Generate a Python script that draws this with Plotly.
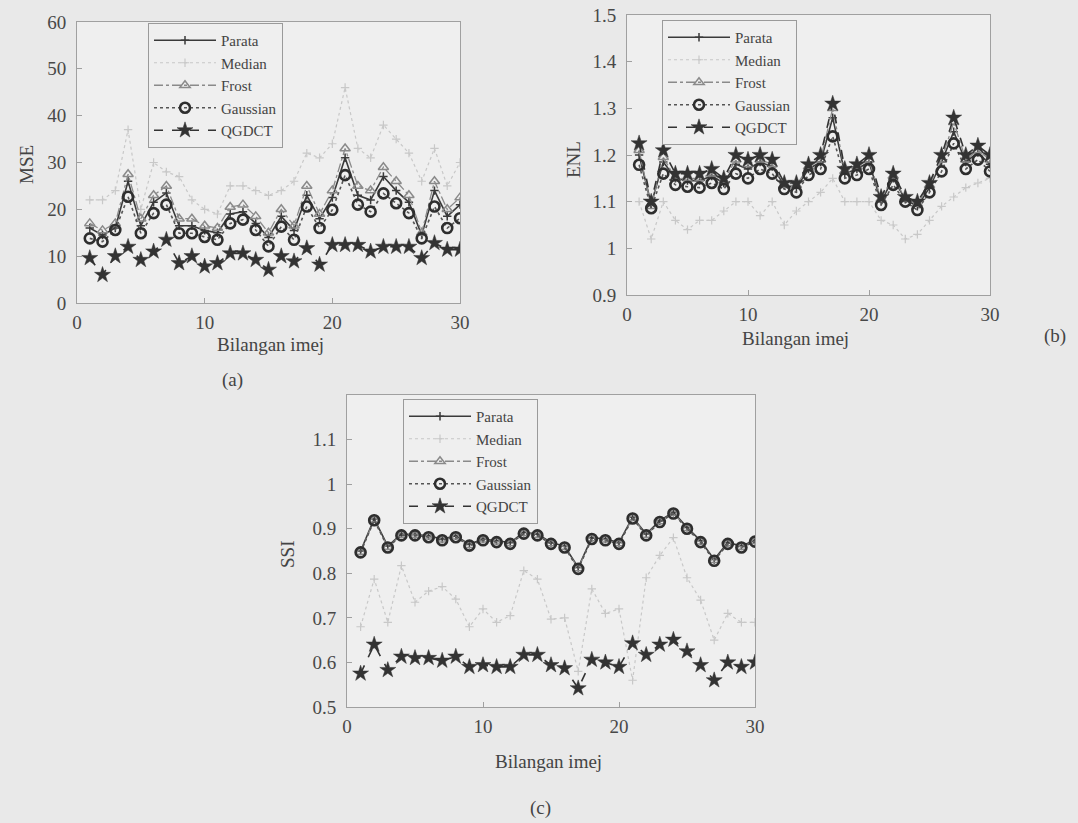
import plotly.graph_objects as go

W, H = 1078, 823

x_img = list(range(1, 31))
series_names = ["Parata", "Median", "Frost", "Gaussian", "QGDCT"]

# (a) MSE
mse_parata = [16, 14.5, 16, 26, 16.5, 21.5, 23.5, 16.5, 16.5, 15.5, 15, 19, 19.5, 17, 14, 18.5, 15.5, 23, 18, 22.5, 31, 23, 22, 27, 24, 21.5, 14.5, 24, 18.5, 21]
mse_median = [22, 22, 24, 37, 20, 30, 28, 27, 22, 20, 19, 25, 25, 24, 23, 24, 26, 32, 31, 34, 46, 33, 31, 38, 35, 32, 26, 33, 25, 30]
mse_frost = [17, 15.5, 17, 27.5, 18, 23, 25, 18, 18, 16.5, 16, 20.5, 21, 18.5, 15, 20, 16.5, 25, 19, 24, 33, 25, 24, 29, 26, 23, 15, 26, 20, 22.5]
mse_gauss = [13.8, 13.1, 15.6, 22.7, 14.9, 19.2, 21, 14.9, 14.9, 14.1, 13.5, 17, 17.8, 15.6, 12.1, 16.3, 13.5, 20.6, 16, 19.9, 27.3, 21, 19.5, 23.4, 21.3, 19.2, 13.8, 20.6, 16, 18.1]
mse_qgdct = [9.6, 6, 10, 12, 9.2, 11, 13.5, 8.5, 10, 7.8, 8.5, 10.6, 10.6, 9.2, 7.1, 10, 8.9, 11.7, 8.2, 12.4, 12.4, 12.4, 11, 12, 12, 12, 9.6, 12.8, 11.4, 11.4]

# (b) ENL
enl_parata = [1.2, 1.095, 1.185, 1.15, 1.145, 1.145, 1.155, 1.14, 1.18, 1.17, 1.185, 1.175, 1.135, 1.13, 1.17, 1.185, 1.28, 1.16, 1.17, 1.185, 1.1, 1.15, 1.105, 1.09, 1.13, 1.185, 1.25, 1.185, 1.205, 1.18]
enl_median = [1.1, 1.02, 1.1, 1.06, 1.04, 1.06, 1.06, 1.08, 1.1, 1.1, 1.07, 1.1, 1.05, 1.08, 1.1, 1.12, 1.15, 1.1, 1.1, 1.1, 1.06, 1.05, 1.02, 1.03, 1.06, 1.09, 1.11, 1.13, 1.14, 1.15]
enl_frost = [1.21, 1.09, 1.195, 1.15, 1.15, 1.15, 1.16, 1.145, 1.19, 1.18, 1.19, 1.18, 1.135, 1.135, 1.175, 1.19, 1.3, 1.165, 1.175, 1.19, 1.105, 1.155, 1.105, 1.095, 1.135, 1.19, 1.27, 1.19, 1.21, 1.19]
enl_gauss = [1.179, 1.086, 1.16, 1.136, 1.132, 1.13, 1.14, 1.127, 1.16, 1.15, 1.17, 1.16, 1.127, 1.12, 1.157, 1.17, 1.24, 1.15, 1.157, 1.17, 1.093, 1.136, 1.1, 1.082, 1.12, 1.165, 1.225, 1.17, 1.19, 1.165]
enl_qgdct = [1.225, 1.1, 1.21, 1.16, 1.16, 1.16, 1.17, 1.15, 1.2, 1.19, 1.2, 1.19, 1.14, 1.14, 1.18, 1.2, 1.31, 1.17, 1.18, 1.2, 1.11, 1.16, 1.11, 1.1, 1.14, 1.2, 1.28, 1.2, 1.22, 1.2]

# (c) SSI
ssi_parata = [0.85, 0.922, 0.861, 0.888, 0.887, 0.884, 0.877, 0.884, 0.865, 0.877, 0.873, 0.869, 0.892, 0.888, 0.869, 0.861, 0.813, 0.88, 0.877, 0.869, 0.926, 0.888, 0.918, 0.937, 0.903, 0.873, 0.831, 0.869, 0.861, 0.874]
ssi_median = [0.68, 0.787, 0.69, 0.817, 0.735, 0.76, 0.77, 0.742, 0.68, 0.72, 0.69, 0.705, 0.806, 0.787, 0.697, 0.7, 0.58, 0.765, 0.71, 0.72, 0.56, 0.79, 0.84, 0.88, 0.79, 0.74, 0.65, 0.71, 0.69, 0.69]
ssi_frost = [0.848, 0.92, 0.859, 0.886, 0.886, 0.882, 0.875, 0.882, 0.863, 0.875, 0.871, 0.867, 0.89, 0.886, 0.867, 0.859, 0.811, 0.878, 0.875, 0.867, 0.924, 0.886, 0.916, 0.935, 0.901, 0.871, 0.829, 0.867, 0.859, 0.872]
ssi_gauss = [0.847, 0.919, 0.858, 0.885, 0.885, 0.881, 0.874, 0.881, 0.862, 0.874, 0.87, 0.866, 0.889, 0.885, 0.866, 0.858, 0.81, 0.877, 0.874, 0.866, 0.923, 0.885, 0.915, 0.934, 0.9, 0.87, 0.828, 0.866, 0.858, 0.871]
ssi_qgdct = [0.575, 0.64, 0.583, 0.613, 0.61, 0.61, 0.604, 0.613, 0.59, 0.594, 0.59, 0.59, 0.617, 0.617, 0.594, 0.587, 0.542, 0.606, 0.6, 0.59, 0.643, 0.617, 0.64, 0.651, 0.625, 0.594, 0.56, 0.6, 0.59, 0.6]

panels = [
    dict(data=[mse_parata, mse_median, mse_frost, mse_gauss, mse_qgdct], xa="x", ya="y", legend="legend"),
    dict(data=[enl_parata, enl_median, enl_frost, enl_gauss, enl_qgdct], xa="x2", ya="y2", legend="legend2"),
    dict(data=[ssi_parata, ssi_median, ssi_frost, ssi_gauss, ssi_qgdct], xa="x3", ya="y3", legend="legend3"),
]

styles = [
    dict(line=dict(color="#3a3a3a", width=1.6, dash="solid"),
         marker=dict(symbol="cross-thin", size=6, color="#3a3a3a", line=dict(color="#3a3a3a", width=1.5))),
    dict(line=dict(color="#c8c8c8", width=1.2, dash="dot"),
         marker=dict(symbol="cross-thin", size=6, color="#c8c8c8", line=dict(color="#c8c8c8", width=1.2))),
    dict(line=dict(color="#8a8a8a", width=1.3, dash="dashdot"),
         marker=dict(symbol="triangle-up-open", size=9, color="#8a8a8a", line=dict(color="#8a8a8a", width=1.5))),
    dict(line=dict(color="#555555", width=1.6, dash="dot"),
         marker=dict(symbol="circle-open", size=10, color="#2e2e2e", line=dict(color="#2e2e2e", width=2.6))),
    dict(line=dict(color="#333333", width=1.6, dash="dash"),
         marker=dict(symbol="star", size=12, color="#333333", line=dict(color="#333333", width=0.5))),
]

fig = go.Figure()
for p in panels:
    for name, vals, st in zip(series_names, p["data"], styles):
        fig.add_trace(go.Scatter(
            x=x_img, y=vals, name=name, mode="lines+markers",
            line=st["line"], marker=st["marker"],
            xaxis=p["xa"], yaxis=p["ya"], legend=p["legend"],
        ))

FONT = "Liberation Serif, Times New Roman, serif"

def xd(a, b):
    return [a / W, b / W]

def yd(top, bottom):
    return [1 - bottom / H, 1 - top / H]

axis_common = dict(showline=True, mirror=True, linecolor="#a0a0a0", linewidth=1,
                   ticks="inside", ticklen=5, tickcolor="#a0a0a0", showgrid=False,
                   zeroline=False, automargin=False,
                   tickfont=dict(family=FONT, size=19, color="#484848"))
xcommon = dict(ticklabelstandoff=2, **axis_common)
ycommon = dict(ticklabelstandoff=6, **axis_common)

layout = dict(
    width=W, height=H,
    margin=dict(l=0, r=0, t=0, b=0, pad=0, autoexpand=False),
    paper_bgcolor="#e9e9e9",
    plot_bgcolor="#efefef",
    font=dict(family=FONT, color="#444444"),
    xaxis=dict(domain=xd(77, 460), range=[0, 30], tickvals=[0, 10, 20, 30], anchor="y", **xcommon),
    yaxis=dict(domain=yd(22, 303), range=[0, 60], tickvals=[0, 10, 20, 30, 40, 50, 60], anchor="x", **ycommon),
    xaxis2=dict(domain=xd(627, 990), range=[0, 30], tickvals=[0, 10, 20, 30], anchor="y2", **xcommon),
    yaxis2=dict(domain=yd(15, 295), range=[0.9, 1.5], tickvals=[0.9, 1.0, 1.1, 1.2, 1.3, 1.4, 1.5],
                ticktext=["0.9", "1", "1.1", "1.2", "1.3", "1.4", "1.5"], anchor="x2", **ycommon),
    xaxis3=dict(domain=xd(347, 755), range=[0, 30], tickvals=[0, 10, 20, 30], anchor="y3", **xcommon),
    yaxis3=dict(domain=yd(395, 707), range=[0.5, 1.2], tickvals=[0.5, 0.6, 0.7, 0.8, 0.9, 1.0, 1.1],
                ticktext=["0.5", "0.6", "0.7", "0.8", "0.9", "1", "1.1"], anchor="x3", **ycommon),
)

leg_common = dict(bgcolor="#efefef", bordercolor="#9a9a9a", borderwidth=1,
                  font=dict(family=FONT, size=15, color="#444444"),
                  xanchor="left", yanchor="top", itemwidth=62, tracegroupgap=0)
layout["legend"] = dict(x=148 / W, y=1 - 23 / H, **leg_common)
layout["legend2"] = dict(x=662 / W, y=1 - 20 / H, **leg_common)
layout["legend3"] = dict(x=403 / W, y=1 - 399 / H, **leg_common)

fig.update_layout(**layout)

ann_font = dict(family=FONT, size=19, color="#444444")
anns = [
    dict(text="MSE", x=27 / W, y=1 - 165 / H, textangle=-90),
    dict(text="Bilangan imej", x=270 / W, y=1 - 344 / H),
    dict(text="(a)", x=232 / W, y=1 - 380 / H),
    dict(text="ENL", x=573 / W, y=1 - 160 / H, textangle=-90),
    dict(text="Bilangan imej", x=795 / W, y=1 - 338 / H),
    dict(text="(b)", x=1055 / W, y=1 - 336 / H),
    dict(text="SSI", x=287 / W, y=1 - 555 / H, textangle=-90),
    dict(text="Bilangan imej", x=548 / W, y=1 - 761 / H),
    dict(text="(c)", x=540 / W, y=1 - 808 / H),
]
for a in anns:
    fig.add_annotation(xref="paper", yref="paper", showarrow=False, font=ann_font,
                       xanchor="center", yanchor="middle", **a)

fig.write_html("out.html", config={"displayModeBar": False},
               post_script="document.body.style.margin='0';document.body.style.overflow='hidden';")
